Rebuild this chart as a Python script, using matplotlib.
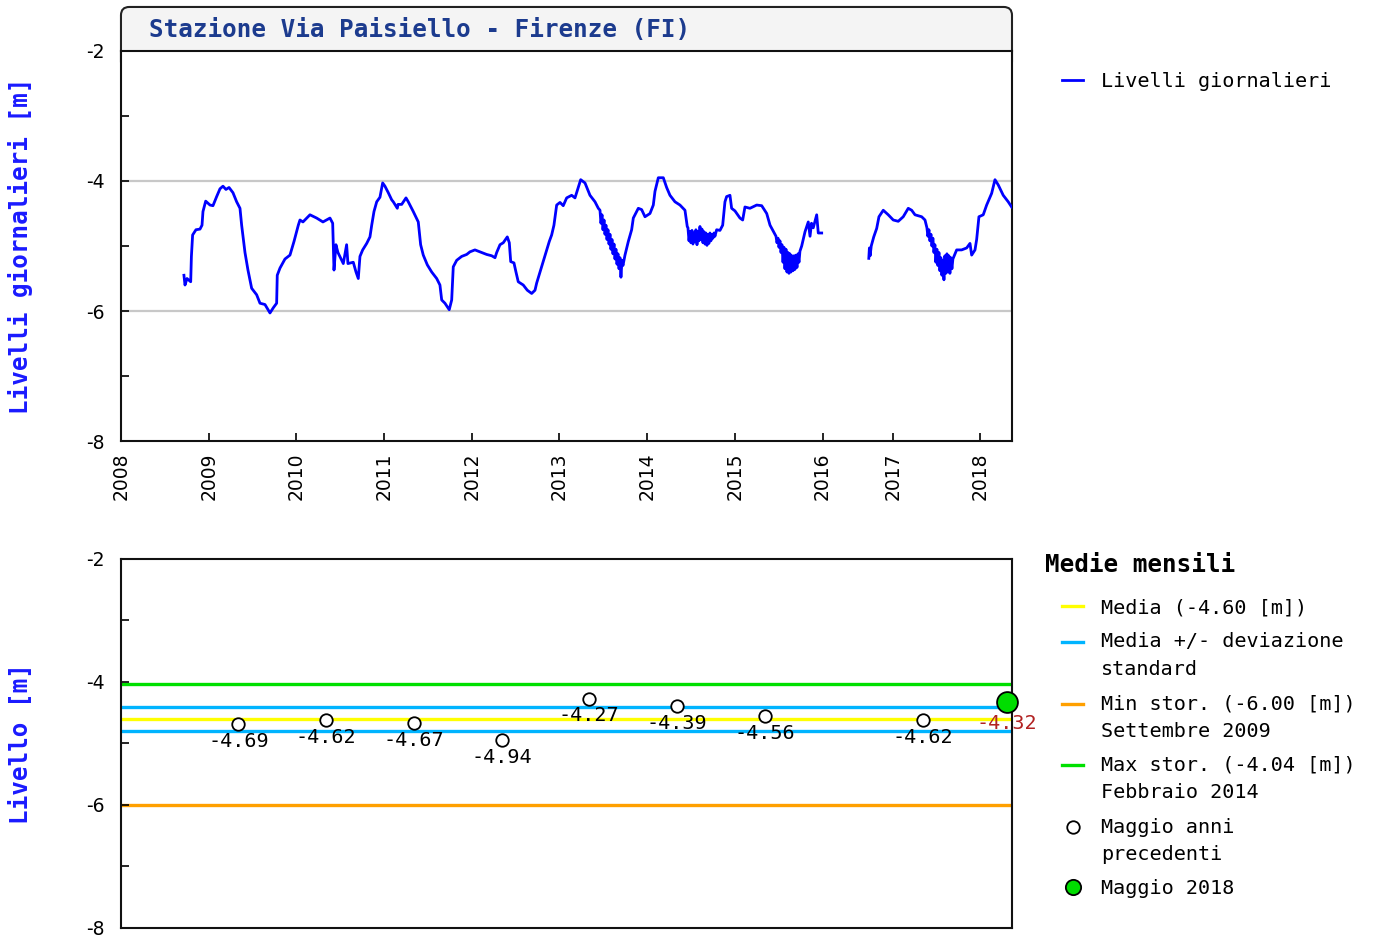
import numpy as np
import matplotlib
matplotlib.use('Agg')
import matplotlib.pyplot as plt
from matplotlib.lines import Line2D
from matplotlib.patches import FancyBboxPatch
from matplotlib.legend_handler import HandlerLine2D

plt.rcParams['axes.unicode_minus'] = False
plt.rcParams['font.family'] = 'DejaVu Sans'

MONO = 'DejaVu Sans Mono'

# Daily levels [m], first record (decimal year)
t_a = [2008.718, 2008.730, 2008.753, 2008.795, 2008.803, 2008.817, 2008.855, 2008.901,
       2008.924, 2008.935, 2008.966, 2009.015, 2009.049, 2009.091, 2009.129, 2009.163,
       2009.197, 2009.232, 2009.277, 2009.319, 2009.357, 2009.376, 2009.414, 2009.448,
       2009.490, 2009.547, 2009.585, 2009.642, 2009.699, 2009.737, 2009.775, 2009.782,
       2009.813, 2009.870, 2009.927, 2009.973, 2010.022, 2010.041, 2010.075, 2010.155,
       2010.231, 2010.303, 2010.383, 2010.414, 2010.429, 2010.451, 2010.474, 2010.503,
       2010.535, 2010.573, 2010.588, 2010.649, 2010.680, 2010.706, 2010.725, 2010.756,
       2010.802, 2010.839, 2010.859, 2010.885, 2010.916, 2010.953, 2010.984, 2011.010,
       2011.048, 2011.087, 2011.105, 2011.151, 2011.159, 2011.201, 2011.250, 2011.276,
       2011.333, 2011.390, 2011.417, 2011.447, 2011.493, 2011.543, 2011.600, 2011.637,
       2011.657, 2011.694, 2011.743, 2011.771, 2011.789, 2011.828, 2011.885, 2011.942,
       2011.979, 2012.036, 2012.093, 2012.170, 2012.227, 2012.265, 2012.284, 2012.322,
       2012.359, 2012.405, 2012.428, 2012.444, 2012.481, 2012.504, 2012.530, 2012.587,
       2012.633, 2012.683, 2012.721, 2012.740, 2012.778, 2012.815, 2012.846, 2012.884,
       2012.911, 2012.937, 2012.968, 2013.006, 2013.043, 2013.082, 2013.139, 2013.177,
       2013.214, 2013.242, 2013.291, 2013.348, 2013.405, 2013.443,
       2013.462, 2013.473, 2013.485, 2013.496, 2013.508, 2013.519, 2013.530, 2013.542,
       2013.553, 2013.565, 2013.576, 2013.587, 2013.599, 2013.610, 2013.622, 2013.633,
       2013.644, 2013.656, 2013.667, 2013.679, 2013.690, 2013.701, 2013.713, 2013.724,
       2013.747, 2013.785, 2013.823, 2013.842, 2013.899, 2013.937, 2013.975, 2014.032,
       2014.070, 2014.089, 2014.127, 2014.184, 2014.222, 2014.260, 2014.317, 2014.374,
       2014.431, 2014.457,
       2014.465, 2014.477, 2014.488, 2014.499, 2014.511, 2014.522, 2014.534, 2014.545,
       2014.556, 2014.568, 2014.579, 2014.591, 2014.602, 2014.613, 2014.625, 2014.636,
       2014.648, 2014.659, 2014.670, 2014.682, 2014.693, 2014.704, 2014.716, 2014.727,
       2014.739, 2014.750, 2014.762, 2014.773,
       2014.792, 2014.830, 2014.861, 2014.887, 2014.906, 2014.944, 2014.963, 2015.001,
       2015.058, 2015.089, 2015.115, 2015.172, 2015.249, 2015.306, 2015.363, 2015.401,
       2015.457,
       2015.469, 2015.480, 2015.492, 2015.503, 2015.514, 2015.526, 2015.537, 2015.549,
       2015.560, 2015.571, 2015.583, 2015.594, 2015.606, 2015.617, 2015.628, 2015.640,
       2015.651, 2015.663, 2015.674, 2015.685, 2015.697, 2015.708, 2015.720, 2015.731,
       2015.742,
       2015.762, 2015.800, 2015.837, 2015.857, 2015.874, 2015.894, 2015.933, 2015.951,
       2015.990]
lvl_a = [-5.45, -5.60, -5.50, -5.55, -5.16, -4.83, -4.75, -4.74,
         -4.68, -4.47, -4.31, -4.37, -4.38, -4.24, -4.12, -4.08,
         -4.13, -4.10, -4.18, -4.32, -4.42, -4.68, -5.10, -5.37,
         -5.65, -5.75, -5.88, -5.90, -6.03, -5.95, -5.88, -5.45,
         -5.34, -5.20, -5.14, -4.93, -4.68, -4.60, -4.63, -4.52,
         -4.57, -4.63, -4.57, -4.65, -5.37, -4.98, -5.10, -5.18,
         -5.27, -4.98, -5.27, -5.25, -5.40, -5.50, -5.16, -5.06,
         -4.96, -4.86, -4.68, -4.47, -4.32, -4.25, -4.03, -4.08,
         -4.18, -4.29, -4.32, -4.42, -4.36, -4.36, -4.26, -4.32,
         -4.47, -4.63, -4.98, -5.14, -5.29, -5.40, -5.50, -5.60,
         -5.83, -5.88, -5.98, -5.83, -5.32, -5.22, -5.16, -5.13,
         -5.09, -5.06, -5.09, -5.13, -5.15, -5.18, -5.10, -4.98,
         -4.95, -4.86, -4.95, -5.24, -5.26, -5.40, -5.55, -5.60,
         -5.68, -5.73, -5.68, -5.57, -5.40, -5.24, -5.09, -4.93,
         -4.83, -4.68, -4.37, -4.33, -4.38, -4.26, -4.22, -4.26,
         -4.10, -3.98, -4.03, -4.22, -4.32, -4.42,
         -4.45, -4.65, -4.52, -4.75, -4.60, -4.82, -4.68, -4.90,
         -4.75, -4.97, -4.82, -5.05, -4.90, -5.12, -4.97, -5.20,
         -5.05, -5.28, -5.12, -5.35, -5.18, -5.48, -5.22, -5.30,
         -5.14, -4.93, -4.75, -4.57, -4.42, -4.44, -4.55, -4.50,
         -4.37, -4.16, -3.95, -3.95, -4.10, -4.22, -4.32, -4.37,
         -4.45, -4.70,
         -4.72, -4.92, -4.78, -4.95, -4.76, -4.97, -4.80, -4.93,
         -4.75, -4.98, -4.78, -4.92, -4.70, -4.90, -4.74, -4.95,
         -4.78, -4.97, -4.80, -4.99, -4.82, -4.96, -4.80, -4.92,
         -4.82, -4.88, -4.80, -4.85,
         -4.75, -4.76, -4.68, -4.32, -4.24, -4.22, -4.42, -4.46,
         -4.57, -4.60, -4.40, -4.42, -4.37, -4.38, -4.50, -4.68,
         -4.82,
         -4.85, -4.95, -4.88, -5.02, -4.92, -5.10, -4.98, -5.25,
         -5.02, -5.35, -5.05, -5.40, -5.10, -5.42, -5.12, -5.40,
         -5.15, -5.38, -5.15, -5.36, -5.14, -5.33, -5.12, -5.25,
         -5.08,
         -5.00, -4.78, -4.63, -4.85, -4.65, -4.72, -4.52, -4.80,
         -4.80]

# Daily levels [m], second record after the 2016 gap
t_b = [2016.703, 2016.712, 2016.723, 2016.740, 2016.778, 2016.817, 2016.843, 2016.892,
       2016.949, 2017.006, 2017.063, 2017.120, 2017.177, 2017.216, 2017.254, 2017.330,
       2017.368,
       2017.390, 2017.401, 2017.413, 2017.424, 2017.436, 2017.447, 2017.458, 2017.470,
       2017.481, 2017.492, 2017.504, 2017.515, 2017.527, 2017.538, 2017.549, 2017.561,
       2017.572, 2017.584, 2017.595, 2017.606, 2017.618, 2017.629, 2017.640, 2017.652,
       2017.663, 2017.675, 2017.686,
       2017.729, 2017.786, 2017.843, 2017.881, 2017.900, 2017.938, 2017.957, 2017.983,
       2018.032, 2018.071, 2018.128, 2018.166, 2018.203, 2018.260, 2018.317, 2018.356]
lvl_b = [-5.19, -5.03, -5.15, -5.00, -4.86, -4.73, -4.55, -4.45,
         -4.52, -4.60, -4.62, -4.55, -4.42, -4.45, -4.52, -4.55,
         -4.60,
         -4.72, -4.85, -4.75, -4.92, -4.82, -5.00, -4.88, -5.10,
         -4.98, -5.25, -5.05, -5.30, -5.10, -5.38, -5.18, -5.45,
         -5.22, -5.52, -5.15, -5.42, -5.12, -5.40, -5.15, -5.42,
         -5.18, -5.35, -5.20,
         -5.06, -5.06, -5.03, -4.96, -5.14, -5.06, -4.90, -4.55,
         -4.52, -4.37, -4.19, -3.98, -4.06, -4.22, -4.32, -4.40]

# Monthly means for May
may_years = [2009, 2010, 2011, 2012, 2013, 2014, 2015, 2017]
may_vals = [-4.69, -4.62, -4.67, -4.94, -4.27, -4.39, -4.56, -4.62]
cur_year = 2018
cur_val = -4.32
media = -4.60
dev_std = 0.19
min_stor = -6.00
max_stor = -4.04

years = list(range(2008, 2019))
yticks = [-2, -4, -6, -8]

# the x axis squeezes the 2016 data gap
GAP0, GAP1, SHRINK = 2016.0, 2016.8, 0.2
K = 1 - SHRINK / (GAP1 - GAP0)


def fwd(t):
    t = np.asarray(t, float)
    return np.where(t <= GAP0, t, np.where(t >= GAP1, t - SHRINK, GAP0 + (t - GAP0) * K))


def inv(u):
    u = np.asarray(u, float)
    return np.where(u <= GAP0, u, np.where(u >= GAP1 - SHRINK, u + SHRINK, GAP0 + (u - GAP0) / K))


class FirstLineHandler(HandlerLine2D):
    # put the handle next to the first line of a two-line label
    def __init__(self, lift=0.0, **kw):
        super().__init__(**kw)
        self.lift = lift

    def create_artists(self, legend, orig_handle, xdescent, ydescent, width, height, fontsize, trans):
        return super().create_artists(legend, orig_handle, xdescent, ydescent - 2 * self.lift,
                                      width, height, fontsize, trans)


fig = plt.figure(figsize=(13.81, 9.42), dpi=100)
ax1 = fig.add_axes([0.0876, 0.5318, 0.6452, 0.4141])
ax2 = fig.add_axes([0.0876, 0.0149, 0.6452, 0.3917])

# title box
box = FancyBboxPatch((0.0876, 0.9257), 0.6452, 0.0669, transform=fig.transFigure,
                     boxstyle='round,pad=0,rounding_size=0.006', mutation_aspect=1381 / 942,
                     facecolor='#f4f4f4', edgecolor='#222222', lw=1.5, zorder=-1)
fig.patches.append(box)
fig.text(0.1079, 0.9682, 'Stazione Via Paisiello - Firenze (FI)', family=MONO,
         fontweight='bold', fontsize=17.5, color='#1c3b8e', va='center', ha='left')

for ax in (ax1, ax2):
    ax.set_xscale('function', functions=(fwd, inv))
    ax.set_xlim(2008, 2018.36)
    ax.set_ylim(-8, -2)
    ax.set_yticks(yticks)
    ax.set_yticks([-3, -5, -7], minor=True)
    ax.set_xticks(years)
    ax.xaxis.set_minor_locator(matplotlib.ticker.NullLocator())
    ax.tick_params(axis='both', which='both', direction='in', length=6, width=1.2,
                   labelsize=13.5, pad=12)
    for s in ax.spines.values():
        s.set_linewidth(1.5)
        s.set_color('#111111')

# top: daily levels
for y in (-4, -6):
    ax1.axhline(y, color='#c8c8c8', lw=1.6, zorder=1)
line_daily, = ax1.plot(t_a, lvl_a, color='#0000ff', lw=2.0, zorder=3)
ax1.plot(t_b, lvl_b, color='#0000ff', lw=2.0, zorder=3)
ax1.set_xticklabels([str(y) for y in years], rotation=90)
ax1.tick_params(axis='x', pad=8)
ax1.set_ylabel('Livelli giornalieri [m]', family=MONO, fontweight='bold',
               fontsize=17.5, color='#1a1aff')
ax1.yaxis.set_label_coords(-0.099, 0.5)

fig.legend([line_daily], ['Livelli giornalieri'], loc='center left',
           bbox_to_anchor=(0.769, 0.913), frameon=False, borderpad=0, borderaxespad=0,
           handlelength=1.05, handletextpad=0.9, prop={'family': MONO, 'size': 14.5})

# bottom: monthly means
ax2.axhline(max_stor, color='#00e000', lw=2.4, zorder=1)
ax2.axhline(media + dev_std, color='#00b4ff', lw=2.4, zorder=1)
ax2.axhline(media - dev_std, color='#00b4ff', lw=2.4, zorder=1)
ax2.axhline(media, color='#ffff00', lw=2.4, zorder=1)
ax2.axhline(min_stor, color='#ffa000', lw=2.4, zorder=1)

may_x = [y + 0.34 for y in may_years]
ax2.plot(may_x, may_vals, 'o', ms=9, mfc='white', mec='black', mew=1.3,
         ls='none', zorder=4)
for x, v in zip(may_x, may_vals):
    ax2.annotate(f'{v:.2f}', (x, v), xytext=(0, -12.5), textcoords='offset points',
                 ha='center', va='center', family=MONO, fontsize=14.5, color='black')
ax2.plot([cur_year + 0.3], [cur_val], 'o', ms=15, mfc='#00dd00', mec='black',
         mew=1.3, ls='none', zorder=5, clip_on=False)
ax2.annotate(f'{cur_val:.2f}', (cur_year + 0.3, cur_val), xytext=(0, -16),
             textcoords='offset points', ha='center', va='center', family=MONO,
             fontsize=14.5, color='#b22222', zorder=2)
ax2.tick_params(axis='x', labelbottom=False, length=0)
ax2.set_ylabel('Livello [m]', family=MONO, fontweight='bold', fontsize=17.5, color='#1a1aff')
ax2.yaxis.set_label_coords(-0.099, 0.5)

fig.text(0.7567, 0.4002, 'Medie mensili', family=MONO, fontweight='bold', fontsize=17.5,
         va='center', ha='left')

h_med = Line2D([], [], color='#ffff00', lw=2.4)
h_std = Line2D([], [], color='#00b4ff', lw=2.4)
h_min = Line2D([], [], color='#ffa000', lw=2.4)
h_max = Line2D([], [], color='#00e000', lw=2.4)
h_pts = Line2D([], [], marker='o', ms=9, mfc='white', mec='black', mew=1.3, ls='none')
h_cur = Line2D([], [], marker='o', ms=11, mfc='#00dd00', mec='black', mew=1.3, ls='none')
labels = [f'Media ({media:.2f} [m])',
          'Media +/- deviazione\nstandard',
          f'Min stor. ({min_stor:.2f} [m])\nSettembre 2009',
          f'Max stor. ({max_stor:.2f} [m])\nFebbraio 2014',
          'Maggio anni\nprecedenti',
          'Maggio 2018']
lift = 10.3
hmap = {h_std: FirstLineHandler(lift), h_min: FirstLineHandler(lift),
        h_max: FirstLineHandler(lift), h_pts: FirstLineHandler(lift)}
leg = fig.legend([h_med, h_std, h_min, h_max, h_pts, h_cur], labels, loc='upper left',
                 bbox_to_anchor=(0.769, 0.365), frameon=False, borderpad=0, borderaxespad=0,
                 handlelength=1.05, handletextpad=0.9, labelspacing=0.76, handler_map=hmap,
                 prop={'family': MONO, 'size': 14.5})
for t in leg.get_texts():
    t.set_linespacing(1.56)

fig.savefig('out.png', dpi=100)
